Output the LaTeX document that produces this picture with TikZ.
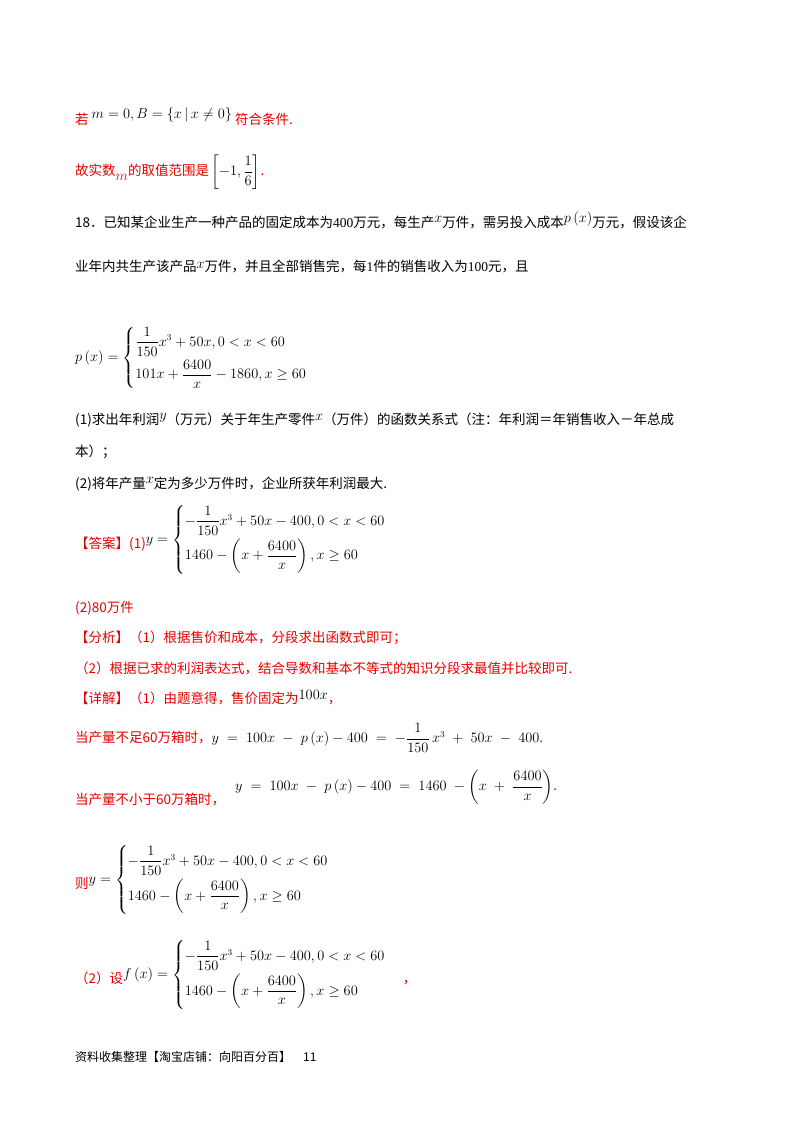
\documentclass[tikz,border=0pt]{standalone}
\usepackage{amsmath}
\usepackage{fontspec}
\newfontfamily\cjk{Noto Sans CJK SC}
\newfontfamily\tms{Liberation Serif}
\definecolor{rd}{RGB}{230,0,0}
\begin{document}
\begin{tikzpicture}[x=1pt,y=-1pt,
  t/.style={anchor=west,inner sep=0pt,font=\fontsize{13.5}{16}\cjk},
  r/.style={t,text=rd}]
\useasboundingbox (0,0) rectangle (800,1132);
\node[r] (l1) at (75,117) {若 \raisebox{6pt}{\color{black}$m=0,B=\left\{x\,|\,x\neq0\right\}$} 符合条件.};
\node[r] (l2) at (75,172) {故实数\raisebox{-5pt}{$m$}的取值范围是\,{\color{black}$\left[-1,\dfrac{1}{6}\right]$}.};
\node[t] (l3) at (75,220) {18．已知某企业生产一种产品的固定成本为{\tms 400}万元，每生产\raisebox{5pt}{$x$}万件，需另投入成本\raisebox{5pt}{$p\left(x\right)$}万元，假设该企};
\node[t] (l4) at (75,266) {业年内共生产该产品\raisebox{3pt}{$x$}万件，并且全部销售完，每{\tms 1}件的销售收入为{\tms 100}元，且};
\node[t] (l5) at (75,358) {$p\left(x\right)=\begin{cases}\dfrac{1}{150}x^3+50x,0<x<60\\[8pt] 101x+\dfrac{6400}{x}-1860,x\geq60\end{cases}$};
\node[t] (l6) at (75,420) {(1)求出年利润\raisebox{5pt}{$y$}（万元）关于年生产零件\raisebox{4pt}{$x$}（万件）的函数关系式（注：年利润＝年销售收入－年总成};
\node[t] (l7) at (75,452) {本）；};
\node[t] (l8) at (75,484) {(2)将年产量\raisebox{5pt}{$x$}定为多少万件时，企业所获年利润最大.};
\node[r] (l9) at (75,540) {【答案】(1)\raisebox{5pt}{\color{black}$y=\begin{cases}-\dfrac{1}{150}x^3+50x-400,0<x<60\\[8pt] 1460-\left(x+\dfrac{6400}{x}\right),x\geq60\end{cases}$}};
\node[r] (l10) at (75,608) {(2)80万件};
\node[r] (l11) at (75,638) {【分析】（1）根据售价和成本，分段求出函数式即可；};
\node[r] (l12) at (75,668) {（2）根据已求的利润表达式，结合导数和基本不等式的知识分段求最值并比较即可.};
\node[r] (l13) at (75,698) {【详解】（1）由题意得，售价固定为\raisebox{4pt}{\color{black}$100x$}，};
\node[r] (l14) at (75,738) {当产量不足60万箱时，{\color{black}$y\;=\;100x\;-\;p\left(x\right)-400\;=\;-\dfrac{1}{150}\,x^3\;+\;50x\;-\;400$}.};
\node[r] (l15) at (75,800) {当产量不小于60万箱时，};
\node[t] (l15b) at (235,787) {$y\;=\;100x\;-\;p\left(x\right)-400\;=\;1460\;-\left(x\;+\;\dfrac{6400}{x}\right)$\textcolor{rd}{.}};
\node[r] (l16) at (75,880) {则\raisebox{5pt}{\color{black}$y=\begin{cases}-\dfrac{1}{150}x^3+50x-400,0<x<60\\[8pt] 1460-\left(x+\dfrac{6400}{x}\right),x\geq60\end{cases}$}};
\node[r] (l17) at (75,975) {（2）设\raisebox{5pt}{\color{black}$f\left(x\right)=\begin{cases}-\dfrac{1}{150}x^3+50x-400,0<x<60\\[8pt] 1460-\left(x+\dfrac{6400}{x}\right),x\geq60\end{cases}$}\;，};
\node[t,font=\fontsize{12}{14}\cjk] (ft) at (75,1057) {资料收集整理【淘宝店铺：向阳百分百】\quad 11};
\end{tikzpicture}
\end{document}
